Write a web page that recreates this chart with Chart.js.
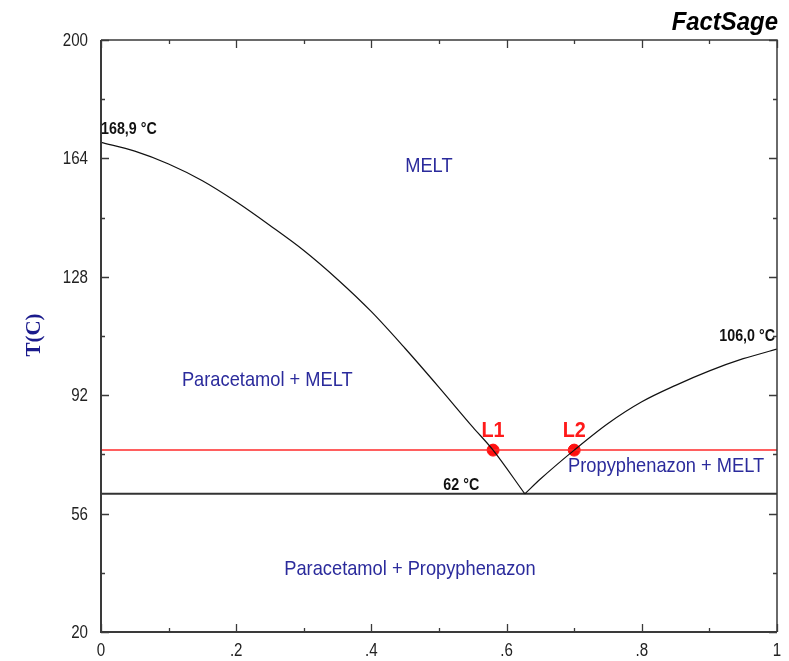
<!DOCTYPE html>
<html>
<head>
<meta charset="utf-8">
<script src="https://cdn.jsdelivr.net/npm/chart.js@4/dist/chart.umd.min.js"></script>
<style>
html,body{margin:0;padding:0;background:#fff;}
#wrap{width:789px;height:661px;position:relative;}
</style>
</head>
<body>
<div id="wrap"><canvas id="c" width="789" height="661"></canvas></div>
<script>
// ---- data ----
const leftX  = [0, 0.05, 0.10, 0.15, 0.20, 0.25, 0.30, 0.35, 0.40, 0.45, 0.50, 0.55, 0.58, 0.627];
const leftT  = [168.9, 166.2, 162.3, 157.2, 150.8, 143.6, 136.0, 127.2, 117.4, 106.2, 94.4, 82.3, 75.3, 62.0];
const rightX = [0.627, 0.65, 0.70, 0.75, 0.80, 0.85, 0.90, 0.95, 1.0];
const rightT = [62.0, 66.5, 75.3, 83.4, 90.0, 95.0, 99.4, 103.1, 106.0];
const eutecticX = [0, 1];
const eutecticT = [62, 62];
const isoX = [0, 1];
const isoT = [75.3, 75.3];
const pointX = [0.58, 0.70];
const pointT = [75.3, 75.3];
const pointNames = ["L1", "L2"];
const xTickLabels = ["0", ".2", ".4", ".6", ".8", "1"];
const yTickValues = [20, 56, 92, 128, 164, 200];
const regionNames = ["MELT", "Paracetamol + MELT", "Propyphenazon + MELT", "Paracetamol + Propyphenazon"];
const regionX = [0.485, 0.246, 0.836, 0.457];
const regionT = [161.6, 96.5, 70.4, 39.1];
const tempNotes = ["168,9 °C", "106,0 °C", "62 °C"];
const tempNoteX = [0, 1, 0.533];
const tempNoteT = [172.8, 109.9, 64.7];

const pts = (xs, ys) => xs.map((x, i) => ({x: x, y: ys[i]}));

const SANS = '"Liberation Sans", Arial, sans-serif';
Chart.defaults.font.family = SANS;

// text drawn with Arial-Narrow-like horizontal compression
function narrowText(ctx, text, x, y, align, sx) {
  ctx.save();
  ctx.translate(x, y);
  ctx.scale(sx, 1);
  ctx.textAlign = align;
  ctx.fillText(text, 0, 0);
  ctx.restore();
}

const decor = {
  id: 'decor',
  afterDatasetsDraw(chart) {
    const ctx = chart.ctx;
    const xs = chart.scales.x, ys = chart.scales.y;
    const a = chart.chartArea;
    ctx.save();
    // frame
    ctx.strokeStyle = '#3a3a3a';
    ctx.lineWidth = 2;
    ctx.beginPath();
    ctx.moveTo(a.left, a.top); ctx.lineTo(a.left, a.bottom); ctx.lineTo(a.right, a.bottom);
    ctx.stroke();
    ctx.lineWidth = 1.5;
    ctx.beginPath();
    ctx.moveTo(a.left, a.top); ctx.lineTo(a.right, a.top); ctx.lineTo(a.right, a.bottom);
    ctx.stroke();
    // inward ticks
    ctx.lineWidth = 1.3;
    ctx.beginPath();
    for (let i = 0; i <= 10; i++) {
      const v = i / 10;
      const px = Math.round(xs.getPixelForValue(v)) + 0.5;
      const len = (i % 2 === 0) ? 8 : 4;
      ctx.moveTo(px, a.bottom); ctx.lineTo(px, a.bottom - len);
      ctx.moveTo(px, a.top); ctx.lineTo(px, a.top + len);
    }
    for (let i = 0; i <= 10; i++) {
      const v = 20 + i * 18;
      const py = Math.round(ys.getPixelForValue(v)) + 0.5;
      const len = (i % 2 === 0) ? 8 : 4;
      ctx.moveTo(a.left, py); ctx.lineTo(a.left + len, py);
      ctx.moveTo(a.right, py); ctx.lineTo(a.right - len, py);
    }
    ctx.stroke();

    // tick labels
    ctx.fillStyle = '#222';
    ctx.font = '18px ' + SANS;
    ctx.textBaseline = 'middle';
    xTickLabels.forEach((t, i) => {
      narrowText(ctx, t, xs.getPixelForValue(i * 0.2), a.bottom + 19, 'center', 0.84);
    });
    yTickValues.forEach((v) => {
      narrowText(ctx, String(v), a.left - 13, ys.getPixelForValue(v) + 1, 'right', 0.84);
    });

    // region labels
    ctx.fillStyle = '#2b2b9c';
    ctx.font = '21px ' + SANS;
    regionNames.forEach((n, i) => {
      narrowText(ctx, n, xs.getPixelForValue(regionX[i]), ys.getPixelForValue(regionT[i]), 'center', 0.87);
    });
    // temperature notes
    ctx.fillStyle = '#111';
    ctx.font = 'bold 17px ' + SANS;
    const aligns = ['left', 'right', 'center'];
    tempNotes.forEach((n, i) => {
      let px = xs.getPixelForValue(tempNoteX[i]);
      if (i === 1) px -= 2;
      narrowText(ctx, n, px, ys.getPixelForValue(tempNoteT[i]), aligns[i], 0.84);
    });
    // point names
    ctx.fillStyle = '#ff1a1a';
    ctx.font = 'bold 22px ' + SANS;
    pointNames.forEach((n, i) => {
      narrowText(ctx, n, xs.getPixelForValue(pointX[i]), ys.getPixelForValue(pointT[i]) - 19, 'center', 0.9);
    });
    // FactSage logo
    ctx.fillStyle = '#000';
    ctx.font = 'italic bold 26px ' + SANS;
    narrowText(ctx, 'FactSage', a.right + 1, 23, 'right', 0.92);
    // axis title
    ctx.save();
    ctx.translate(35, 335);
    ctx.rotate(-Math.PI / 2);
    ctx.fillStyle = '#1a1a8c';
    ctx.font = 'bold 21px "Liberation Serif", "Times New Roman", serif';
    ctx.textAlign = 'center';
    ctx.fillText('T(C)', 0, 0);
    ctx.restore();
    ctx.restore();
  }
};

new Chart(document.getElementById('c'), {
  type: 'scatter',
  data: {
    datasets: [
      {data: pts(leftX, leftT), showLine: true, borderColor: '#111', borderWidth: 1.2, pointRadius: 0, cubicInterpolationMode: 'monotone'},
      {data: pts(rightX, rightT), showLine: true, borderColor: '#111', borderWidth: 1.2, pointRadius: 0, cubicInterpolationMode: 'monotone'},
      {data: pts(eutecticX, eutecticT), showLine: true, borderColor: '#333', borderWidth: 2, pointRadius: 0},
      {data: pts(isoX, isoT), showLine: true, borderColor: '#ff2a2a', borderWidth: 1.5, pointRadius: 0},
      {data: pts(pointX, pointT), showLine: false, pointRadius: 6, pointBackgroundColor: '#ff1010', pointBorderColor: '#ff1010'}
    ]
  },
  options: {
    responsive: false,
    animation: false,
    events: [],
    layout: {padding: {left: 0, right: 12, top: 40, bottom: 0}},
    plugins: {legend: {display: false}, tooltip: {enabled: false}},
    scales: {
      x: {
        type: 'linear', min: 0, max: 1,
        grid: {display: false, drawTicks: false},
        border: {display: false},
        ticks: {stepSize: 0.2, display: false},
        afterFit: (s) => { s.height = 29; }
      },
      y: {
        type: 'linear', min: 20, max: 200,
        grid: {display: false, drawTicks: false},
        border: {display: false},
        afterBuildTicks: (s) => { s.ticks = yTickValues.map(v => ({value: v})); },
        ticks: {display: false},
        afterFit: (s) => { s.width = 101; }
      }
    }
  },
  plugins: [decor]
});
</script>
</body>
</html>
